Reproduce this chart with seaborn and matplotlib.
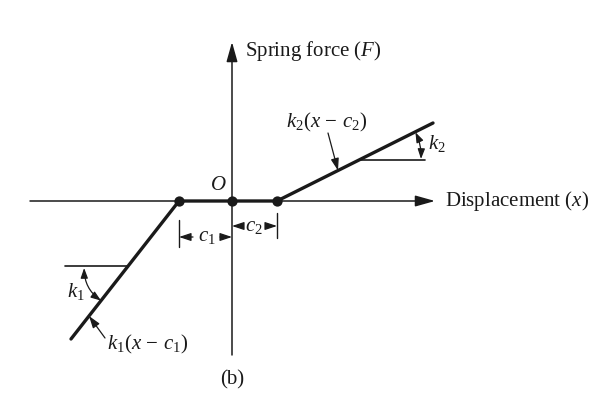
import numpy as np
import pandas as pd
import matplotlib
matplotlib.use("Agg")
import matplotlib.pyplot as plt
import seaborn as sns

# Piecewise-linear spring with a dead zone between -c1 and c2
c1 = 53.0
c2 = 45.0
displacement = [-161.0, -53.0, 0.0, 45.0, 201.0]
spring_force = [-138.0, 0.0, 0.0, 0.0, 78.0]
break_x = [-53.0, 0.0, 45.0]
break_f = [0.0, 0.0, 0.0]

label_F = "Spring force ($F$)"
label_x = "Displacement ($x$)"
label_k1 = "$k_1$"
label_k2 = "$k_2$"
label_seg1 = "$k_1(x\\,-\\,c_1)$"
label_seg2 = "$k_2(x\\,-\\,c_2)$"
caption = "(b)"

sns.set_theme(style="white")
plt.rcParams["font.family"] = ["Liberation Serif", "DejaVu Serif"]
plt.rcParams["mathtext.fontset"] = "custom"
plt.rcParams["mathtext.rm"] = "Liberation Serif"
plt.rcParams["mathtext.it"] = "Liberation Serif:italic"
plt.rcParams["mathtext.bf"] = "Liberation Serif:bold"

ink = "#1a1a1a"
fs = 15

fig = plt.figure(figsize=(6.11, 3.94), dpi=100)
ax = fig.add_axes([0, 0, 1, 1])
ax.set_xlim(-232, 379)
ax.set_ylim(-193, 201)
ax.axis("off")

def arrow(start, end, style, lw=1.1, conn="arc3,rad=0"):
    ax.annotate("", xy=end, xytext=start,
                arrowprops=dict(arrowstyle=style, lw=lw, color=ink,
                                shrinkA=0, shrinkB=0, connectionstyle=conn))

# coordinate axes
arrow((-202, 0), (203, 0), "-|>,head_length=1.0,head_width=0.28")
arrow((0, -154), (0, 159), "-|>,head_length=1.0,head_width=0.28")

# spring characteristic
df = pd.DataFrame({"x": displacement, "F": spring_force})
sns.lineplot(data=df, x="x", y="F", sort=False, estimator=None,
             color=ink, lw=2.4, ax=ax, zorder=3)
sns.scatterplot(x=break_x, y=break_f, color=ink, s=55, edgecolor=ink,
                linewidth=0, ax=ax, zorder=4)

k1 = spring_force[0] / (displacement[0] + c1)
k2 = spring_force[-1] / (displacement[-1] - c2)

# slope reference for k1
y1 = -65.0
x1 = -c1 + y1 / k1
ax.plot([-167, x1], [y1, y1], color=ink, lw=1.2)
r1 = 44.0
a1 = np.arctan(k1)
p_start = (x1 - r1, y1 - 2)
p_end = (x1 - r1 * np.cos(a1), y1 - r1 * np.sin(a1))
arrow(p_start, p_end, "<|-|>,head_length=0.5,head_width=0.18", lw=0.9,
      conn="arc3,rad=0.25")
ax.text(-156, -91, label_k1, fontsize=fs, color=ink, ha="center", va="center")

# slope reference for k2
y2 = 41.0
x2 = c2 + y2 / k2
ax.plot([x2, 193], [y2, y2], color=ink, lw=1.2)
r2 = 62.0
a2 = np.arctan(k2)
arrow((x2 + r2, y2 + 1), (x2 + r2 * np.cos(a2) + 1, y2 + r2 * np.sin(a2)),
      "<|-|>,head_length=0.5,head_width=0.18", lw=0.9, conn="arc3,rad=0.12")
ax.text(205, 58, label_k2, fontsize=fs, color=ink, ha="center", va="center")

# segment labels with leaders
ax.text(-125, -143, label_seg1, fontsize=fs, color=ink, ha="left", va="center")
fx = -143.0
arrow((-127, -137), (fx, k1 * (fx + c1)), "-|>,head_length=0.6,head_width=0.2", lw=0.9)
ax.text(95, 79, label_seg2, fontsize=fs, color=ink, ha="center", va="center")
gx = 106.0
arrow((96, 68), (gx, k2 * (gx - c2)), "-|>,head_length=0.6,head_width=0.2", lw=0.9)

# dimension marks for c1 and c2
yc1 = -36.0
ax.plot([-c1, -c1], [-19, -46], color=ink, lw=1.0)
arrow((-39, yc1), (-c1, yc1), "-|>,head_length=0.6,head_width=0.2", lw=0.9)
arrow((-12, yc1), (0, yc1), "-|>,head_length=0.6,head_width=0.2", lw=0.9)
ax.text(-25, yc1, "$c_1$", fontsize=fs, color=ink, ha="center", va="center")

yc2 = -25.0
ax.plot([c2, c2], [-12, -37], color=ink, lw=1.0)
arrow((9, yc2), (0, yc2), "-|>,head_length=0.6,head_width=0.2", lw=0.9)
arrow((35, yc2), (c2, yc2), "-|>,head_length=0.6,head_width=0.2", lw=0.9)
ax.text(22, yc2, "$c_2$", fontsize=fs, color=ink, ha="center", va="center")

# axis labels and origin
ax.text(13, 150, label_F, fontsize=fs, color=ink, ha="left", va="center")
ax.text(213, 0, label_x, fontsize=fs, color=ink, ha="left", va="center")
ax.text(-14, 16, "$O$", fontsize=fs, color=ink, ha="center", va="center")
ax.text(0, -179, caption, fontsize=fs, color=ink, ha="center", va="center")

fig.savefig("out.png", dpi=100, facecolor="white")
